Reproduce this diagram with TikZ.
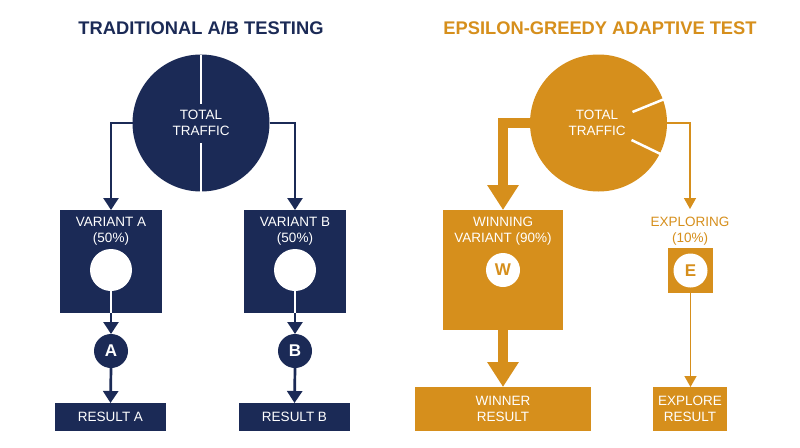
\documentclass[tikz,border=0pt]{standalone}
\usepackage{fontspec}
\setmainfont{Liberation Sans}
\usetikzlibrary{arrows.meta,calc}
\definecolor{navy}{HTML}{1B2A56}
\definecolor{gold}{HTML}{D68F1C}
\tikzset{
  titletext/.style={font=\fontsize{18.3}{22}\selectfont\bfseries},
  bodytext/.style={font=\fontsize{13.5}{16}\selectfont, align=center},
  lettertext/.style={font=\fontsize{17}{19}\selectfont\bfseries},
  navyarrow/.style={navy, line width=2.7pt, -{Triangle[width=15pt,length=12pt]}},
  thickarrow/.style={gold, line width=10pt, -{Triangle[width=30pt,length=25pt]}},
  thinarrow/.style={gold, line width=1.4pt, -{Triangle[width=12pt,length=11pt]}},
  whiteline/.style={white, line width=2.5pt},
  box/.style={rectangle, inner sep=0pt},
  disc/.style={circle, inner sep=0pt},
}
\begin{document}
\begin{tikzpicture}[x=1pt,y=-1pt, every node/.style={inner sep=0pt, outer sep=0pt}]
\useasboundingbox (0,0) rectangle (800,447);
\fill[white] (0,0) rectangle (800,447);

% ---------- Left: traditional A/B ----------
\node[titletext, text=navy] (t1) at (201,28) {TRADITIONAL A/B TESTING};
\node[disc, fill=navy, minimum size=137pt] (c1) at (201,123) {};
\draw[whiteline] (c1.north) -- ++(0,49);
\draw[whiteline] (c1.south) -- ++(0,-49);
\node[bodytext, text=white] (tt1) at (201,123) {TOTAL\\TRAFFIC};

\node[box, fill=navy, minimum width=102pt, minimum height=103pt] (va) at (111,261.5) {};
\node[box, fill=navy, minimum width=102pt, minimum height=103pt] (vb) at (295,261.5) {};
\node[bodytext, text=white] (vat) at (111,231) {VARIANT A\\(50\%)};
\node[bodytext, text=white] (vbt) at (295,231) {VARIANT B\\(50\%)};
\node[disc, fill=white, minimum size=42pt] (wa) at (111,270) {};
\node[disc, fill=white, minimum size=42pt] (wb) at (295,270) {};
\draw[whiteline] (wa.south) -- (wa.south |- va.south);
\draw[whiteline] (wb.south) -- (wb.south |- vb.south);

\node[disc, fill=navy, minimum size=34pt, text=white, lettertext] (ca) at (111,351) {A};
\node[disc, fill=navy, minimum size=34pt, text=white, lettertext] (cb) at (295,351) {B};

\node[box, fill=navy, minimum width=111pt, minimum height=28pt, bodytext, text=white] (ra) at (110.5,417) {RESULT A};
\node[box, fill=navy, minimum width=111pt, minimum height=28pt, bodytext, text=white] (rb) at (294.5,417) {RESULT B};

\draw[navyarrow] (c1.west) -| (va.north);
\draw[navyarrow] (c1.east) -| (vb.north);
\draw[navyarrow] (va.south) -- (ca.north);
\draw[navyarrow] (vb.south) -- (cb.north);
\draw[navyarrow] (ca.south) -- (ra.north);
\draw[navyarrow] (cb.south) -- (rb.north);

% ---------- Right: epsilon-greedy ----------
\node[titletext, text=gold] (t2) at (600,28) {EPSILON-GREEDY ADAPTIVE TEST};
\node[disc, fill=gold, minimum size=137pt] (c2) at (598.5,123) {};
\draw[whiteline] ($(c2.center)+(34,-11)$) -- ($(c2.center)+(66,-24)$);
\draw[whiteline] ($(c2.center)+(33,17)$) -- ($(c2.center)+(62,31)$);
\node[bodytext, text=white] (tt2) at (597,123) {TOTAL\\TRAFFIC};

\node[box, fill=gold, minimum width=120pt, minimum height=120pt] (wv) at (503,270) {};
\node[bodytext, text=white] (wvt) at (503,231) {WINNING\\VARIANT (90\%)};
\node[disc, fill=white, minimum size=34pt, text=gold, lettertext] (cw) at (503,270) {W};
\node[box, fill=gold, minimum width=176pt, minimum height=44pt, bodytext, text=white] (wr) at (503,409) {WINNER\\RESULT};

\node[bodytext, text=gold] (ext) at (690,231) {EXPLORING\\(10\%)};
\coordinate (exin) at (690,209);
\node[box, fill=gold, minimum width=45pt, minimum height=45pt] (eb) at (690.5,270.5) {};
\node[disc, fill=white, minimum size=34pt, text=gold, lettertext] (ce) at (690.5,270.5) {E};
\node[box, fill=gold, minimum width=74pt, minimum height=44pt, bodytext, text=white] (er) at (690,409) {EXPLORE\\RESULT};

\draw[thickarrow] (c2.west) -| (wv.north);
\draw[thickarrow] (wv.south) -- (wr.north);
\draw[thinarrow] (c2.east) -| (exin);
\draw[thinarrow] (eb.south) -- (eb.south |- er.north);
\end{tikzpicture}
\end{document}
